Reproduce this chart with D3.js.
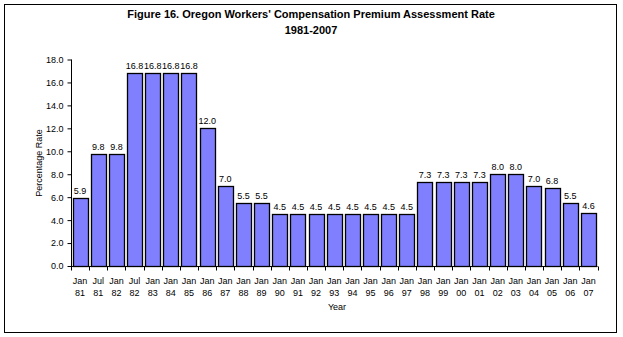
<!DOCTYPE html>
<html>
<head>
<meta charset="utf-8">
<script src="https://cdn.jsdelivr.net/npm/d3@7"></script>
<style>
  body { margin: 0; background: #fff; }
  svg { display: block; font-family: "Liberation Sans", Arial, sans-serif; }
</style>
</head>
<body>
<svg id="chart" width="623" height="337"></svg>
<script>
// Assessment rate periods and rates (percent)
const monthLabels = ["Jan","Jul","Jan","Jul","Jan","Jan","Jan","Jan","Jan","Jan","Jan","Jan","Jan","Jan","Jan",
  "Jan","Jan","Jan","Jan","Jan","Jan","Jan","Jan","Jan","Jan","Jan","Jan","Jan","Jan"];
const yearLabels = ["81","81","82","82","83","84","85","86","87","88","89","90","91","92","93",
  "94","95","96","97","98","99","00","01","02","03","04","05","06","07"];
const rates = [5.9, 9.8, 9.8, 16.8, 16.8, 16.8, 16.8, 12.0, 7.0, 5.5, 5.5, 4.5, 4.5, 4.5, 4.5,
  4.5, 4.5, 4.5, 4.5, 7.3, 7.3, 7.3, 7.3, 8.0, 8.0, 7.0, 6.8, 5.5, 4.6];
const yTicks = [0, 2, 4, 6, 8, 10, 12, 14, 16, 18];

const svg = d3.select("#chart");
const periods = rates.map((d, i) => i);

const x = d3.scaleBand().domain(periods).range([71, 597.5]).paddingInner(0.17).paddingOuter(0.085);
const y = d3.scaleLinear().domain([0, 18]).range([266, 59.5]);

// outer frame
svg.append("rect").attr("x", 4.5).attr("y", 4.5).attr("width", 612).attr("height", 328)
  .attr("fill", "none").attr("stroke", "#000").attr("stroke-width", 1);

// title
svg.append("text").attr("x", 311).attr("y", 18).attr("text-anchor", "middle")
  .attr("font-size", 11).attr("font-weight", "bold")
  .text("Figure 16. Oregon Workers' Compensation Premium Assessment Rate");
svg.append("text").attr("x", 311).attr("y", 34).attr("text-anchor", "middle")
  .attr("font-size", 11).attr("font-weight", "bold").text("1981-2007");

// bars
svg.append("g").selectAll("rect").data(rates).join("rect")
  .attr("x", (d, i) => Math.round(x(i)) + 0.5)
  .attr("y", d => Math.round(y(d)) + 0.5)
  .attr("width", Math.round(x.bandwidth()))
  .attr("height", d => y(0) - Math.round(y(d)))
  .attr("fill", "#8080ff").attr("stroke", "#000").attr("stroke-width", 1.3);

// value labels
svg.append("g").selectAll("text").data(rates).join("text")
  .attr("x", (d, i) => x(i) + x.bandwidth() / 2)
  .attr("y", d => y(d) - 4)
  .attr("text-anchor", "middle").attr("font-size", 9)
  .text(d => d.toFixed(1));

// y axis
const yAxis = d3.axisLeft(y).tickValues(yTicks).tickFormat(d3.format(".1f")).tickSize(4).tickPadding(4);
const gy = svg.append("g").attr("transform", "translate(71.5,0)").call(yAxis);
gy.select(".domain").attr("d", `M0,${y(18)}V${y(0)}`);
gy.selectAll("text").attr("font-size", 9).attr("font-family", "Liberation Sans, Arial, sans-serif");

// x axis: ticks between categories
const step = x.step();
const xStart = 71, xEnd = 597.5;
const gx = svg.append("g").attr("transform", `translate(0,${y(0) + 0.5})`);
gx.append("line").attr("x1", xStart).attr("x2", xEnd).attr("stroke", "#000");
const boundaries = d3.range(rates.length + 1).map(i => xStart + i * (xEnd - xStart) / rates.length);
gx.selectAll(".tk").data(boundaries).join("line")
  .attr("x1", d => Math.round(d) + 0.5).attr("x2", d => Math.round(d) + 0.5)
  .attr("y1", 0).attr("y2", 4).attr("stroke", "#000");

const labels = svg.append("g").attr("font-size", 9).attr("text-anchor", "middle");
labels.selectAll(".m").data(monthLabels).join("text")
  .attr("x", (d, i) => x(i) + x.bandwidth() / 2).attr("y", 284).text(d => d);
labels.selectAll(".yr").data(yearLabels).join("text")
  .attr("x", (d, i) => x(i) + x.bandwidth() / 2).attr("y", 296).text(d => d);

// axis titles
svg.append("text").attr("x", 337).attr("y", 310).attr("text-anchor", "middle")
  .attr("font-size", 9).text("Year");
svg.append("text").attr("transform", "translate(42,163) rotate(-90)").attr("text-anchor", "middle")
  .attr("font-size", 9).text("Percentage Rate");
</script>
</body>
</html>
